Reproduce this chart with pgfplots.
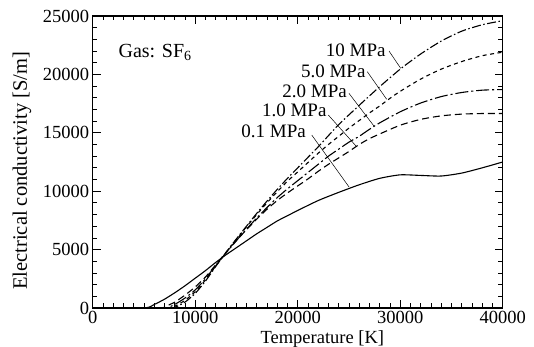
\documentclass[border=0pt]{standalone}
\usepackage{fontspec}
\setmainfont{Liberation Serif}
\usepackage{pgfplots}
\pgfplotsset{compat=1.18}
\newcommand\fs{\rmfamily\fontsize{18.5bp}{21bp}\selectfont}
\newcommand\fl{\rmfamily\fontsize{19bp}{22bp}\selectfont}
\begin{document}
\begin{tikzpicture}
\begin{axis}[
  at={(0,0)}, anchor=south west,
  scale only axis, width=410bp, height=292bp,
  xmin=0, xmax=40000, ymin=0, ymax=25000,
  xtick={0,10000,20000,30000,40000},
  ytick={0,5000,10000,15000,20000,25000},
  minor x tick num=9, minor y tick num=4,
  tick align=inside,
  major tick length=8bp, minor tick length=4.5bp,
  every tick/.style={black, line width=0.8bp},
  axis line style={line width=1.1bp},
  scaled ticks=false,
  /pgf/number format/1000 sep={},
  /pgf/number format/assume math mode=true,
  ticklabel style={font=\fs},
  xlabel={Temperature [K]},
  ylabel={Electrical conductivity [S/m]},
  xlabel style={font=\fs, at={(axis description cs:0.56,-0.12)}, anchor=base},
  ylabel style={font=\rmfamily\fontsize{20.5bp}{22bp}\selectfont, at={(axis description cs:-0.1725,0.47)}, anchor=center},
  every axis plot/.append style={black, no marks, line width=1.1bp, smooth, tension=0.4},
  clip=true,
]
% 0.1 MPa
\addplot[black, solid, no marks] coordinates {(0,0)(5000,0)(6000,300)(7000,750)(8000,1300)(9000,1900)(10000,2550)(11000,3200)(12000,3900)(13000,4550)(14000,5150)(15000,5750)(16000,6350)(17000,6900)(18000,7450)(19000,7900)(20000,8350)(22000,9200)(24000,9900)(26000,10550)(28000,11100)(30000,11400)(32000,11350)(34000,11300)(36000,11550)(38000,12000)(40000,12500)};
% 1.0 MPa
\addplot[black, no marks, dash pattern=on 7bp off 4bp] coordinates {(0,0)(6500,0)(7000,100)(8000,500)(9000,1100)(10000,1800)(11000,2650)(12000,3700)(13000,4750)(14000,5750)(15000,6700)(16000,7600)(17000,8450)(18000,9200)(19000,9850)(20000,10450)(21000,11050)(22000,11700)(23000,12300)(24000,12850)(25000,13400)(26000,14000)(27000,14500)(28000,14900)(30000,15650)(32000,16150)(34000,16450)(36000,16600)(38000,16650)(40000,16650)};
% 2.0 MPa
\addplot[black, no marks, dash pattern=on 13bp off 3bp on 2bp off 3bp] coordinates {(0,0)(7000,0)(7500,100)(8000,300)(9000,850)(10000,1550)(11000,2500)(12000,3650)(13000,4700)(14000,5750)(15000,6750)(16000,7700)(17000,8600)(18000,9450)(19000,10200)(20000,10900)(21000,11600)(22000,12300)(23000,13000)(24000,13600)(25000,14200)(26000,14700)(27000,15300)(28000,15850)(30000,16800)(32000,17550)(34000,18100)(36000,18450)(38000,18650)(40000,18700)};
% 5.0 MPa
\addplot[black, no marks, dash pattern=on 4bp off 3.5bp] coordinates {(0,0)(7500,0)(8000,150)(9000,650)(10000,1400)(11000,2400)(12000,3600)(13000,4750)(14000,5850)(15000,6950)(16000,8000)(17000,9000)(18000,9950)(19000,10850)(20000,11650)(21000,12450)(22000,13250)(23000,14000)(24000,14700)(25000,15400)(26000,16050)(27000,16700)(28000,17300)(29000,17950)(30000,18550)(32000,19600)(34000,20450)(36000,21100)(38000,21600)(40000,21900)};
% 10 MPa
\addplot[black, no marks, dash pattern=on 9bp off 2.5bp on 1.5bp off 2.5bp] coordinates {(0,0)(7500,0)(8000,50)(9000,500)(10000,1250)(11000,2300)(12000,3550)(13000,4750)(14000,5900)(15000,7000)(16000,8100)(17000,9150)(18000,10150)(19000,11100)(20000,12000)(21000,12900)(22000,13800)(24000,15700)(26000,17350)(28000,18950)(30000,20450)(32000,21750)(34000,22850)(36000,23700)(38000,24250)(40000,24600)};
% labels
\node[anchor=west, font=\rmfamily\fontsize{20bp}{22bp}\selectfont] at (axis cs:2180,21900) {Gas: SF\textsubscript{6}};
\node[anchor=east, font=\fl, inner sep=0pt] at (axis cs:28590,22090) {10 MPa};
\node[anchor=east, font=\fl, inner sep=0pt] at (axis cs:26630,20290) {5.0 MPa};
\node[anchor=east, font=\fl, inner sep=0pt] at (axis cs:24810,18520) {2.0 MPa};
\node[anchor=east, font=\fl, inner sep=0pt] at (axis cs:22830,16950) {1.0 MPa};
\node[anchor=east, font=\fl, inner sep=0pt] at (axis cs:20810,15090) {0.1 MPa};
\draw[line width=0.5bp] (axis cs:28910,22000) -- (axis cs:30050,20520);
\draw[line width=0.5bp] (axis cs:26790,20230) -- (axis cs:28680,17870);
\draw[line width=0.5bp] (axis cs:25000,18380) -- (axis cs:27440,15580);
\draw[line width=0.5bp] (axis cs:22990,16520) -- (axis cs:25690,13870);
\draw[line width=0.5bp] (axis cs:21370,14810) -- (axis cs:25010,10360);
\end{axis}
\pgfresetboundingbox
\path[use as bounding box] (-92.7bp,-39bp) rectangle (441.3bp,308bp);
\end{tikzpicture}
\end{document}
